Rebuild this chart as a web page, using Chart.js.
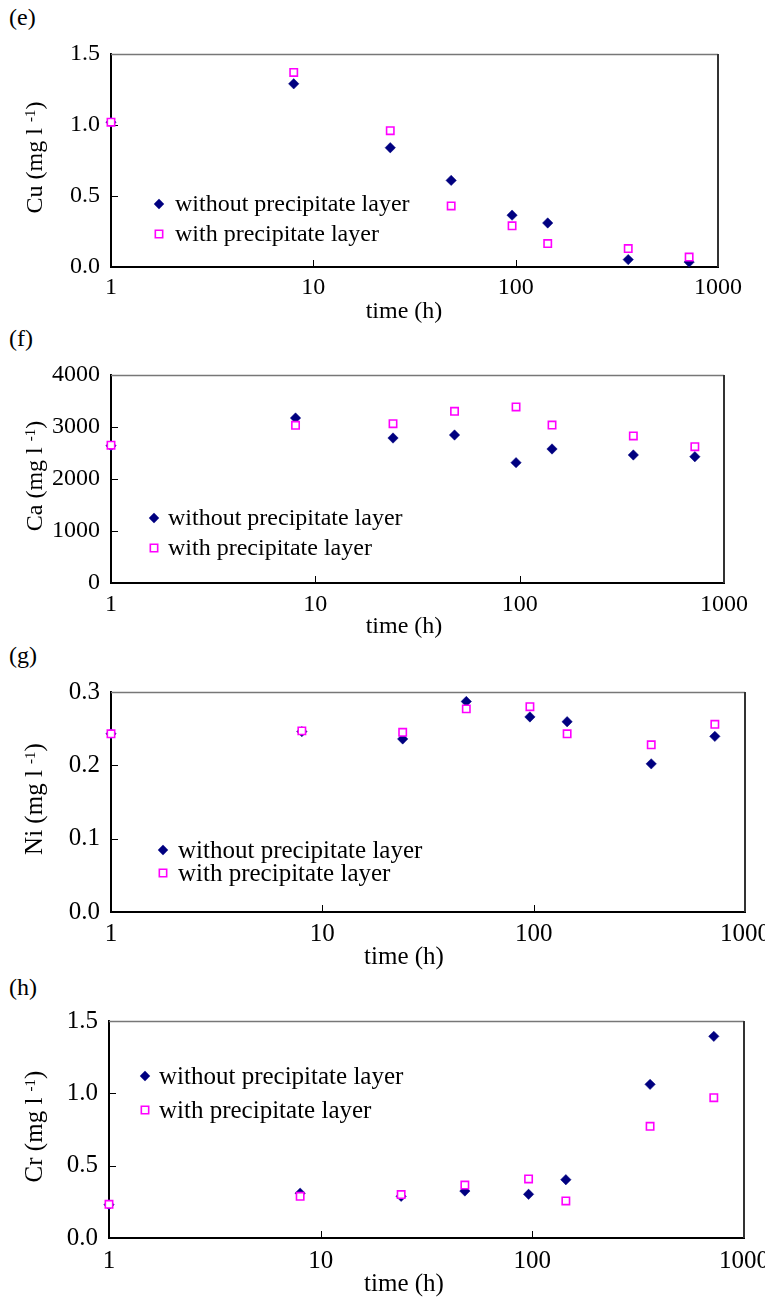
<!DOCTYPE html>
<html><head><meta charset="utf-8">
<script src="https://cdn.jsdelivr.net/npm/chart.js@4.4.1/dist/chart.umd.min.js"></script>
<style>
html,body{margin:0;padding:0;background:#fff;}
body{width:765px;height:1300px;position:relative;overflow:hidden;font-family:"Liberation Serif","Times New Roman",serif;}
.lbl{position:absolute;left:9px;font-size:24px;line-height:24px;color:#000;}
canvas{position:absolute;left:0;}
</style></head>
<body>
<div class="lbl" style="top:5px">(e)</div>
<div class="lbl" style="top:326px">(f)</div>
<div class="lbl" style="top:643px">(g)</div>
<div class="lbl" style="top:975px">(h)</div>
<canvas id="ce" width="765" height="300" style="top:30px"></canvas>
<canvas id="cf" width="765" height="305" style="top:345px"></canvas>
<canvas id="cg" width="765" height="310" style="top:665px"></canvas>
<canvas id="ch" width="765" height="310" style="top:990px"></canvas>
<script>
// ---- data ----
const timeH = [1, 8, 24, 48, 96, 144, 360, 720];
const xTickValues = [1, 10, 100, 1000];
const seriesNames = ['without precipitate layer', 'with precipitate layer'];

const cuWithout = [1.02, 1.29, 0.84, 0.61, 0.365, 0.31, 0.052, 0.035];
const cuWith    = [1.02, 1.37, 0.96, 0.43, 0.29, 0.165, 0.13, 0.07];
const cuTicks   = [0, 0.5, 1.0, 1.5];

const caWithout = [2640, 3173, 2788, 2846, 2314, 2577, 2462, 2429];
const caWith    = [2650, 3032, 3064, 3301, 3385, 3038, 2827, 2622];
const caTicks   = [0, 1000, 2000, 3000, 4000];

const niWithout = [0.243, 0.246, 0.236, 0.287, 0.266, 0.2595, 0.202, 0.2395];
const niWith    = [0.243, 0.247, 0.245, 0.277, 0.280, 0.243, 0.228, 0.256];
const niTicks   = [0, 0.1, 0.2, 0.3];

const crWithout = [0.23, 0.31, 0.288, 0.325, 0.302, 0.403, 1.062, 1.394];
const crWith    = [0.233, 0.288, 0.300, 0.366, 0.408, 0.256, 0.772, 0.970];
const crTicks   = [0, 0.5, 1.0, 1.5];

// ---- styling ----
const NAVY = '#000080', MAG = '#ff00ff';
const FONT = "'Liberation Serif','Times New Roman',serif";
Chart.defaults.font.family = FONT;
Chart.defaults.color = '#000';

function diamond(ctx, x, y, r) {
  ctx.beginPath();
  ctx.moveTo(x - r, y); ctx.lineTo(x, y - r); ctx.lineTo(x + r, y); ctx.lineTo(x, y + r);
  ctx.closePath();
  ctx.fillStyle = NAVY; ctx.fill();
}
function square(ctx, x, y, r, bw) {
  const s = Math.SQRT1_2 * r;
  ctx.beginPath(); ctx.rect(x - s, y - s, 2 * s, 2 * s);
  ctx.fillStyle = '#fff'; ctx.fill();
  ctx.lineWidth = bw; ctx.strokeStyle = MAG; ctx.stroke();
}

const decor = {
  id: 'decor',
  beforeDatasetsDraw(chart) {
    const {ctx, chartArea: a, scales: {x, y}} = chart;
    ctx.save();
    ctx.lineWidth = 1.5; ctx.strokeStyle = '#777';
    ctx.beginPath(); ctx.moveTo(a.left, a.top + 0.5); ctx.lineTo(a.right, a.top + 0.5); ctx.stroke();
    ctx.lineWidth = 2; ctx.strokeStyle = '#333';
    ctx.beginPath(); ctx.moveTo(a.right, a.top); ctx.lineTo(a.right, a.bottom); ctx.stroke();
    ctx.lineWidth = 1; ctx.strokeStyle = '#000';
    x.ticks.forEach(t => {
      const px = Math.round(x.getPixelForValue(t.value)) + 0.5;
      if (px < a.left + 3 || px > a.right - 3) return;
      ctx.beginPath(); ctx.moveTo(px, a.bottom); ctx.lineTo(px, a.bottom - 7); ctx.stroke();
    });
    y.ticks.forEach(t => {
      const py = Math.round(y.getPixelForValue(t.value)) + 0.5;
      if (py < a.top + 3 || py > a.bottom - 3) return;
      ctx.beginPath(); ctx.moveTo(a.left, py); ctx.lineTo(a.left + 7, py); ctx.stroke();
    });
    ctx.restore();
  },
  afterDraw(chart, args, o) {
    const {ctx, chartArea: a} = chart;
    const fs = o.fontSize;
    ctx.save();
    ctx.fillStyle = '#000';
    // x title
    ctx.font = fs + 'px ' + FONT;
    ctx.textAlign = 'center'; ctx.textBaseline = 'middle';
    ctx.fillText(o.xTitle, o.xTitleX, a.bottom + o.xTitleDy);
    // y title with superscript
    const mainFont = fs + 'px ' + FONT, supFont = '15px ' + FONT;
    ctx.font = mainFont; const w1 = ctx.measureText(o.yMain).width; const w3 = ctx.measureText(')').width;
    ctx.font = supFont; const w2 = ctx.measureText('-1').width;
    const total = w1 + w2 + w3;
    const cy = (a.top + a.bottom) / 2 - 3;
    ctx.translate(42, cy);
    ctx.rotate(-Math.PI / 2);
    ctx.textAlign = 'left'; ctx.textBaseline = 'alphabetic';
    let sx = -total / 2;
    ctx.font = mainFont; ctx.fillText(o.yMain, sx, 0); sx += w1;
    ctx.font = supFont; ctx.fillText('-1', sx, -7); sx += w2;
    ctx.font = mainFont; ctx.fillText(')', sx, 0);
    ctx.setTransform(1, 0, 0, 1, 0, 0);
    // legend
    const L = o.legend;
    diamond(ctx, L.mx, L.y1, 5.2);
    square(ctx, L.mx, L.y2, 5.2, 1.6);
    ctx.fillStyle = '#000';
    ctx.font = fs + 'px ' + FONT;
    ctx.textAlign = 'left'; ctx.textBaseline = 'middle';
    ctx.fillText(seriesNames[0], L.tx, L.y1 + 1);
    ctx.fillText(seriesNames[1], L.tx, L.y2 + 1);
    ctx.restore();
  }
};

function makePanel(id, p) {
  const ctxEl = document.getElementById(id);
  const top = parseFloat(ctxEl.style.top);
  const H = ctxEl.height;
  const toPts = arr => timeH.map((t, i) => ({x: t, y: arr[i]}));
  new Chart(ctxEl, {
    type: 'scatter',
    data: {
      datasets: [
        {label: seriesNames[1], data: toPts(p.withArr), pointStyle: 'rect', pointRadius: 5.2,
         backgroundColor: '#fff', borderColor: MAG, borderWidth: 1.6, clip: false, order: 0},
        {label: seriesNames[0], data: toPts(p.withoutArr), pointStyle: 'rectRot', pointRadius: 5.2,
         backgroundColor: NAVY, borderColor: NAVY, borderWidth: 0.5, clip: false, order: 1}
      ]
    },
    options: {
      responsive: false, animation: false, devicePixelRatio: 1, events: [],
      layout: {padding: {top: p.top - top, right: 765 - p.right, left: 0, bottom: 0}},
      plugins: {
        legend: {display: false}, tooltip: {enabled: false},
        decor: {
          fontSize: p.fs, xTitle: 'time (h)', xTitleX: 404, xTitleDy: p.xTitleDy,
          yMain: p.yMain,
          legend: {mx: p.leg.mx, y1: p.leg.y1 - top, y2: p.leg.y2 - top, tx: p.leg.tx}
        }
      },
      scales: {
        x: {
          type: 'logarithmic', position: 'bottom', min: 1, max: 1000,
          grid: {display: true, drawOnChartArea: false, drawTicks: false},
          border: {display: true, color: '#000', width: 2},
          ticks: {font: {size: p.fs}, padding: p.xPad, maxRotation: 0, autoSkip: false,
                  callback: v => String(v)},
          afterBuildTicks: s => { s.ticks = xTickValues.map(v => ({value: v})); },
          afterFit: s => { s.height = H - p.bottom + top; s.paddingLeft = 0; s.paddingRight = 0; }
        },
        y: {
          type: 'linear', position: 'left', min: p.ticks[0], max: p.ticks[p.ticks.length - 1],
          grid: {display: true, drawOnChartArea: false, drawTicks: false},
          border: {display: true, color: '#000', width: 2},
          ticks: {font: {size: p.fs}, padding: 11, autoSkip: false,
                  callback: v => p.dec ? Number(v).toFixed(p.dec) : String(v)},
          afterBuildTicks: s => { s.ticks = p.ticks.map(v => ({value: v})); },
          afterFit: s => { s.width = p.left; s.paddingTop = 0; s.paddingBottom = 0; }
        }
      }
    },
    plugins: [decor]
  });
}

makePanel('ce', {withoutArr: cuWithout, withArr: cuWith, ticks: cuTicks, dec: 1, yMain: 'Cu (mg l ',
  top: 54, bottom: 267, left: 111, right: 718, fs: 24, xPad: 6, xTitleDy: 45,
  leg: {mx: 159, y1: 204, y2: 234, tx: 175}});
makePanel('cf', {withoutArr: caWithout, withArr: caWith, ticks: caTicks, dec: 0, yMain: 'Ca (mg l ',
  top: 375, bottom: 583, left: 111, right: 724, fs: 24, xPad: 7, xTitleDy: 44,
  leg: {mx: 154, y1: 518, y2: 548, tx: 168}});
makePanel('cg', {withoutArr: niWithout, withArr: niWith, ticks: niTicks, dec: 1, yMain: 'Ni (mg l ',
  top: 692, bottom: 912, left: 111, right: 745, fs: 25, xPad: 7, xTitleDy: 45,
  leg: {mx: 163, y1: 850, y2: 873, tx: 178}});
makePanel('ch', {withoutArr: crWithout, withArr: crWith, ticks: crTicks, dec: 1, yMain: 'Cr (mg l ',
  top: 1021, bottom: 1238, left: 109, right: 744, fs: 25, xPad: 8, xTitleDy: 46,
  leg: {mx: 145, y1: 1076, y2: 1110, tx: 159}});
</script>
</body></html>
